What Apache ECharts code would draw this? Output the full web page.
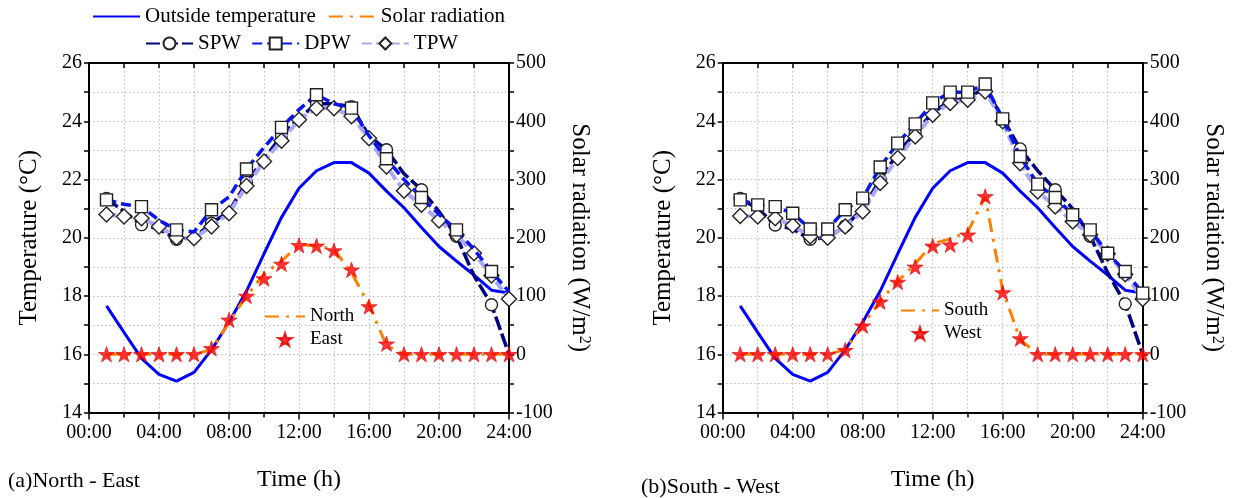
<!DOCTYPE html>
<html>
<head>
<meta charset="utf-8">
<script src="https://cdn.jsdelivr.net/npm/echarts@6/dist/echarts.min.js"></script>
<style>html,body{margin:0;padding:0;background:#fff;}#c{width:1237px;height:498px;}</style>
</head>
<body>
<div id="c"></div>
<script>
// ---------- data ----------
const hours = [1,2,3,4,5,6,7,8,9,10,11,12,13,14,15,16,17,18,19,20,21,22,23,24];
const xTickLabels = ['00:00','04:00','08:00','12:00','16:00','20:00','24:00'];

const outsideTemp = [17.66,16.75,15.86,15.31,15.08,15.38,16.15,17.1,18.17,19.45,20.7,21.7,22.3,22.58,22.58,22.22,21.6,21.03,20.35,19.7,19.2,18.72,18.2,18.1];

// (a) North - East
const spwA = [21.35,20.9,20.45,20.3,19.95,20.0,20.5,20.9,21.9,22.7,23.5,24.1,24.6,24.6,24.5,23.5,23.02,22.2,21.65,20.9,20.05,18.7,17.7,16.0];
const dpwA = [21.3,21.15,21.07,20.6,20.27,20.2,20.96,21.4,22.36,23.1,23.79,24.4,24.91,24.6,24.45,23.5,22.71,22.0,21.38,20.8,20.27,19.6,18.84,18.15];
const tpwA = [20.8,20.73,20.67,20.39,20.0,19.98,20.39,20.84,21.78,22.62,23.33,24.05,24.45,24.45,24.17,23.42,22.45,21.61,21.13,20.59,20.1,19.47,18.7,17.9];
const northRad = [0,0,0,0,0,0,8,55,100,138,160,188,186,180,140,85,15,0,0,0,0,0,0,0];
const eastRad  = [0,0,0,0,0,0,10,59,100,130,155,187,186,178,145,82,18,0,0,0,0,0,0,0];

// (b) South - West
const spwB = [21.35,21.0,20.44,20.3,19.95,20.0,20.4,21.0,22.0,22.9,23.6,24.3,24.7,24.8,25.15,24.1,23.05,22.3,21.65,21.0,20.05,18.8,17.73,16.0];
const dpwB = [21.3,21.13,21.07,20.84,20.3,20.3,20.96,21.36,22.43,23.25,23.91,24.63,25.0,25.0,25.28,24.08,22.79,21.84,21.38,20.79,20.27,19.47,18.84,18.1];
const tpwB = [20.75,20.73,20.67,20.42,20.04,20.0,20.39,20.9,21.88,22.74,23.48,24.22,24.63,24.74,25.02,24.0,22.56,21.59,21.07,20.56,20.1,19.45,18.75,17.9];
const southRad = [0,0,0,0,0,0,8,50,92,125,155,190,198,210,270,110,25,0,0,0,0,0,0,0];
const westRad  = [0,0,0,0,0,0,7,49,90,124,150,186,188,205,271,106,27,0,0,0,0,0,0,0];

// ---------- styles ----------
const FONT = 'Liberation Serif';
const STAR = 'path://M50 0 L61.2 34.5 L97.6 34.5 L68.2 55.9 L79.4 90.5 L50 69.1 L20.6 90.5 L31.8 55.9 L2.4 34.5 L38.8 34.5 Z';
const C_OUT = '#0000FF', C_SPW = '#000080', C_DPW = '#0A14F0', C_TPW = '#A8A8F4', C_RAD = '#FF8000', C_STAR = '#FF0000';
const gridLine = {show:true, lineStyle:{color:'#BDBDBD', type:[1.5,2.5], width:1}};
const noSym = {opacity:0, color:'transparent', borderWidth:0};

function pts(vals, oddOnly){
  return vals.map((v,i)=>{
    const h = hours[i];
    const it = {value:[h, v]};
    if (oddOnly && h % 2 === 0) it.symbol = 'none';
    return it;
  });
}

function xAxes(gi){
  return [{
    gridIndex: gi, type:'value', min:0, max:24, interval:4, position:'bottom',
    axisLine:{show:true, onZero:false, lineStyle:{color:'#000', width:2}},
    axisTick:{show:true, inside:false, length:7, lineStyle:{color:'#000', width:1.5}},
    minorTick:{show:true, splitNumber:2, length:5, lineStyle:{color:'#000', width:1.5}},
    axisLabel:{color:'#000', fontFamily:FONT, fontSize:20, margin:10,
      formatter:(v)=> xTickLabels[Math.round(v/4)] },
    splitLine: gridLine, minorSplitLine: gridLine,
    name:'Time (h)', nameLocation:'middle', nameGap:55,
    nameTextStyle:{color:'#000', fontFamily:FONT, fontSize:24}
  },{
    gridIndex: gi, type:'value', min:0, max:24, interval:2, position:'top',
    axisLine:{show:true, onZero:false, lineStyle:{color:'#000', width:2}},
    axisTick:{show:true, inside:true, length:5, lineStyle:{color:'#000', width:1.5}},
    axisLabel:{show:false}, splitLine:{show:false}
  }];
}
function yAxes(gi){
  return [{
    gridIndex: gi, type:'value', min:14, max:26, interval:2, position:'left',
    axisLine:{show:true, onZero:false, lineStyle:{color:'#000', width:2}},
    axisTick:{show:true, inside:false, length:5, lineStyle:{color:'#000', width:1.5}},
    minorTick:{show:true, splitNumber:2, length:5, lineStyle:{color:'#000', width:1.5}},
    axisLabel:{color:'#000', fontFamily:FONT, fontSize:20, margin:7},
    splitLine: gridLine, minorSplitLine: gridLine,
    name:'Temperature (°C)', nameLocation:'middle', nameRotate:90, nameGap:47,
    nameTextStyle:{color:'#000', fontFamily:FONT, fontSize:25}
  },{
    gridIndex: gi, type:'value', min:-100, max:500, interval:100, position:'right',
    axisLine:{show:true, onZero:false, lineStyle:{color:'#000', width:2}},
    axisTick:{show:true, inside:false, length:5, lineStyle:{color:'#000', width:1.5}},
    minorTick:{show:true, splitNumber:2, length:5, lineStyle:{color:'#000', width:1.5}},
    axisLabel:{color:'#000', fontFamily:FONT, fontSize:20, margin:7},
    splitLine:{show:false},
    name:'{t|Solar radiation (W/m}{s|2}{t|)}', nameLocation:'middle', nameRotate:-90, nameGap:58,
    nameTextStyle:{color:'#000', fontFamily:FONT, fontSize:25,
      rich:{t:{fontFamily:FONT, fontSize:25, color:'#000'},
            s:{fontFamily:FONT, fontSize:16, color:'#000', verticalAlign:'top', lineHeight:14}}}
  }];
}

function panelSeries(gi, spw, dpw, tpw, rad, radName, star, starName, dpwOdd){
  const xi = gi*2, yi = gi*2;
  const mk = {color:'#fff', borderColor:'#222', borderWidth:1.4};
  return [
    {name:'Outside temperature', type:'line', xAxisIndex:xi, yAxisIndex:yi, data:pts(outsideTemp,false),
      symbol:'none', lineStyle:{color:C_OUT, width:3}, itemStyle:{color:C_OUT}, z:2},
    {name:'SPW', type:'line', xAxisIndex:xi, yAxisIndex:yi, data:pts(spw,true),
      symbol:'circle', symbolSize:12, showAllSymbol:true, lineStyle:{color:C_SPW, width:3.5, type:[14,4]}, itemStyle:mk, z:3},
    {name:'TPW', type:'line', xAxisIndex:xi, yAxisIndex:yi, data:pts(tpw,false),
      symbol:'diamond', symbolSize:[15,15], showAllSymbol:true, lineStyle:{color:C_TPW, width:4, type:[10,4]}, itemStyle:mk, z:4},
    {name:'DPW', type:'line', xAxisIndex:xi, yAxisIndex:yi, data:pts(dpw,dpwOdd),
      symbol:'rect', symbolSize:12, showAllSymbol:true, lineStyle:{color:C_DPW, width:3.5, type:[10,5]}, itemStyle:mk, z:5},
    {name:radName, type:'line', xAxisIndex:xi, yAxisIndex:yi+1, data:pts(rad,false),
      symbol:'none', lineStyle:{color:C_RAD, width:3, type:[14,7,3,7]}, itemStyle:{color:C_RAD}, z:6},
    {name:starName, type:'scatter', xAxisIndex:xi, yAxisIndex:yi+1, data:pts(star,false),
      symbol:STAR, symbolSize:16, symbolKeepAspect:true,
      itemStyle:{color:C_STAR, borderColor:'#E00000', borderWidth:0.8}, z:7}
  ];
}

const legText = {color:'#000', fontFamily:FONT, fontSize:21};
const inText = {color:'#000', fontFamily:FONT, fontSize:19};
const option = {
  animation:false,
  backgroundColor:'#fff',
  title:[
    {text:'(a)North - East', left:8, top:470, padding:0, textStyle:{color:'#000', fontFamily:FONT, fontSize:22, fontWeight:'normal'}},
    {text:'(b)South - West', left:641, top:476, padding:0, textStyle:{color:'#000', fontFamily:FONT, fontSize:22, fontWeight:'normal'}}
  ],
  grid:[
    {left:89, right:1237-509, top:63, bottom:498-412.5},
    {left:722.7, right:1237-1142.7, top:63, bottom:498-412.5}
  ],
  legend:[
    {data:[{name:'Outside temperature', itemStyle:noSym},{name:'Solar radiation', itemStyle:noSym}],
      left:92, top:6, itemWidth:47, itemHeight:15, itemGap:12, selectedMode:false, textStyle:legText, padding:0},
    {data:['SPW','DPW','TPW'], left:145, top:33, itemWidth:47, itemHeight:15, itemGap:10, selectedMode:false, textStyle:legText, padding:0},
    {data:[{name:'North', itemStyle:noSym},'East'], orient:'vertical', left:264, top:307, itemWidth:40, itemHeight:13, itemGap:4, selectedMode:false,
      textStyle:inText, padding:0},
    {data:[{name:'South', itemStyle:noSym},'West'], orient:'vertical', left:900, top:301, itemWidth:38, itemHeight:13, itemGap:4, selectedMode:false,
      textStyle:inText, padding:0}
  ],
  xAxis:[...xAxes(0), ...xAxes(1)],
  yAxis:[...yAxes(0), ...yAxes(1)],
  series:[
    ...panelSeries(0, spwA, dpwA, tpwA, northRad, 'North', eastRad, 'East', true),
    ...panelSeries(1, spwB, dpwB, tpwB, southRad, 'South', westRad, 'West', false),
    {name:'Solar radiation', type:'line', xAxisIndex:0, yAxisIndex:1, data:[], symbol:'none',
      lineStyle:{color:C_RAD, width:3, type:[14,7,3,7]}, itemStyle:{color:C_RAD}}
  ]
};
const chart = echarts.init(document.getElementById('c'), null, {renderer:'canvas'});
chart.setOption(option);
</script>
</body>
</html>
